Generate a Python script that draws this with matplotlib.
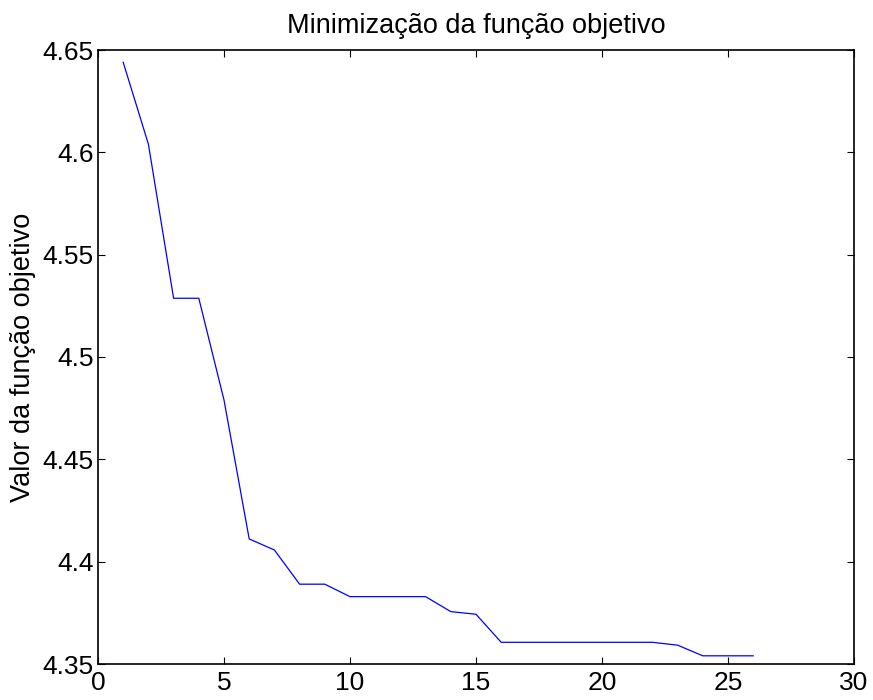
import matplotlib
matplotlib.use("Agg")
import matplotlib.pyplot as plt

plt.rcParams['font.family'] = ['Liberation Sans', 'DejaVu Sans']

iteracoes = list(range(1, 27))
valores = [4.6440, 4.6040, 4.5287, 4.5287, 4.4790, 4.4111, 4.4057, 4.3890,
           4.3890, 4.3829, 4.3829, 4.3829, 4.3829, 4.3756, 4.3743, 4.3606,
           4.3606, 4.3606, 4.3606, 4.3606, 4.3606, 4.3606, 4.3592, 4.3540,
           4.3540, 4.3540]
xticks = [0, 5, 10, 15, 20, 25, 30]
yticks = [4.35, 4.4, 4.45, 4.5, 4.55, 4.6, 4.65]
yticklabels = ['4.35', '4.4', '4.45', '4.5', '4.55', '4.6', '4.65']

fig = plt.figure(figsize=(8.73, 7.0), dpi=100)
ax = fig.add_axes([98 / 873, 1 - 664 / 700, (854 - 98) / 873, (664 - 50) / 700])

ax.plot(iteracoes, valores, color=(0, 0, 1), linewidth=0.9)

ax.set_xlim(0, 30)
ax.set_ylim(4.35, 4.65)
ax.set_xticks(xticks)
ax.set_yticks(yticks)
ax.set_yticklabels(yticklabels)
ax.tick_params(direction='in', length=5, width=0.8, top=True, right=True,
               labelsize=19)
ax.tick_params(axis='x', pad=5)
ax.tick_params(axis='y', pad=3)
for s in ax.spines.values():
    s.set_linewidth(1.2)

ax.set_title('Minimização da função objetivo', fontsize=19.5, pad=12)
ax.set_ylabel('Valor da função objetivo', fontsize=19.5, labelpad=5)

fig.savefig('out.png', dpi=100)
